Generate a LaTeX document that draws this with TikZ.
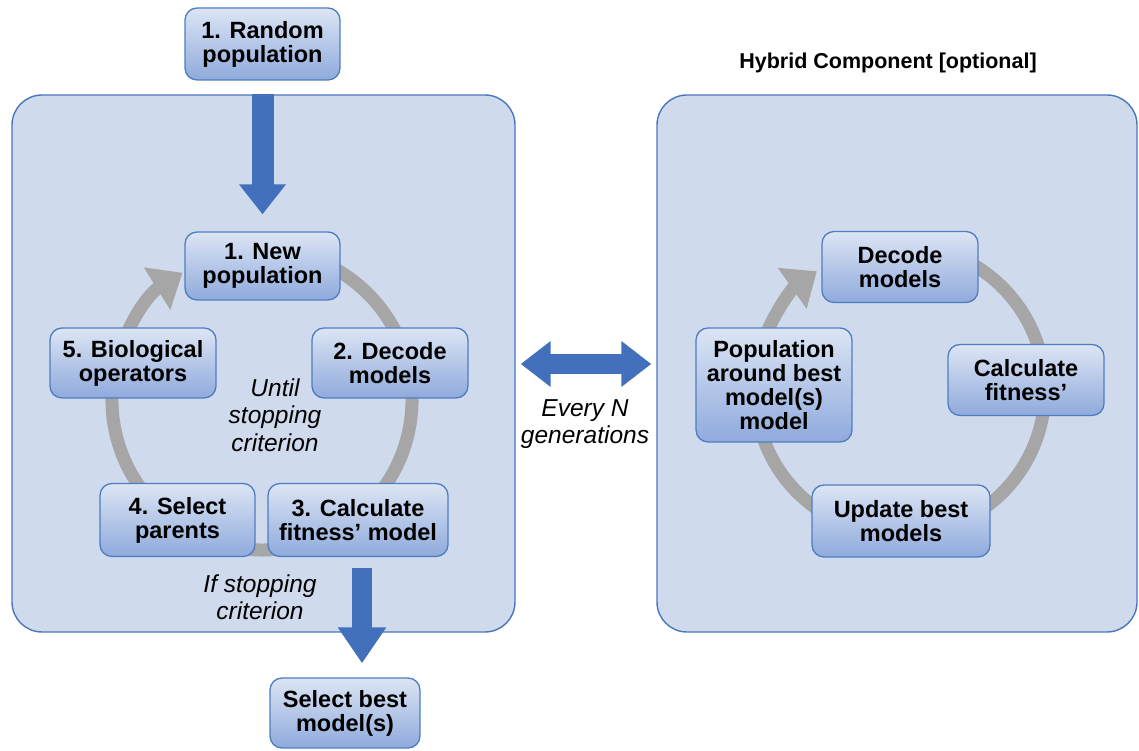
\documentclass[tikz,border=0pt]{standalone}
\usepackage{fontspec}
\setmainfont{Liberation Sans}
\usetikzlibrary{arrows.meta,calc}
\definecolor{contfill}{HTML}{CFDAEC}
\definecolor{contline}{HTML}{4A76C0}
\definecolor{boxtop}{HTML}{DCE5F4}
\definecolor{boxbot}{HTML}{8FAADC}
\definecolor{boxline}{HTML}{4F7DC2}
\definecolor{bluearrow}{HTML}{4270BC}
\definecolor{grayarc}{HTML}{A6A6A6}
\tikzset{
  container/.style={draw=contline, fill=contfill, line width=1.4pt, rounded corners=30pt, inner sep=0pt},
  stepbox/.style={draw=boxline, line width=1.3pt, rounded corners=12pt, top color=boxtop, bottom color=boxbot,
    align=center, inner sep=0pt, font=\bfseries\fontsize{23.5}{24}\selectfont},
  note/.style={align=center, font=\itshape\fontsize{24.5}{27.5}\selectfont},
  blockarrow/.style={draw=bluearrow, line width=#1},
  cyclearc/.style={draw=grayarc, line width=13pt, -{Triangle[length=30pt, width=48pt]}},
}
\begin{document}
\begin{tikzpicture}[x=1pt,y=1pt]
\useasboundingbox (0,0) rectangle (1139,751);
% containers
\node[container, minimum width=503pt, minimum height=537pt] (lc) at (263.5,387.5) {};
\node[container, minimum width=480pt, minimum height=537pt] (rc) at (897,387.5) {};
\node[font=\bfseries\fontsize{21.5}{24}\selectfont] (title) at (888,688) {Hybrid Component [optional]};
% cycle arcs
\draw[cyclearc] (262,351) ++(80:150) arc[start angle=80, end angle=-238, radius=150];
\draw[cyclearc] (900,361) ++(70:145) arc[start angle=70, end angle=-235, radius=145];
% boxes
\node[stepbox, minimum width=155pt, minimum height=72pt] (rand) at (262.5,707) {1. Random\\population};
\node[stepbox, minimum width=155pt, minimum height=68pt] (newpop) at (262.5,485) {1. New\\population};
\node[stepbox, minimum width=156pt, minimum height=70pt] (decode) at (390,388) {2. Decode\\models};
\node[stepbox, minimum width=166pt, minimum height=70pt] (bio) at (133,388) {5. Biological\\operators};
\node[stepbox, minimum width=155pt, minimum height=73pt] (select) at (177.5,231) {4. Select\\parents};
\node[stepbox, minimum width=180pt, minimum height=73pt] (calc) at (358,231) {3. Calculate\\fitness’ model};
\node[stepbox, minimum width=150pt, minimum height=70pt] (best) at (345,38) {Select best\\model(s)};
\node[stepbox, minimum width=156pt, minimum height=71pt] (hdecode) at (900,484) {Decode\\models};
\node[stepbox, minimum width=156pt, minimum height=71pt] (hcalc) at (1026,371) {Calculate\\fitness’};
\node[stepbox, minimum width=178pt, minimum height=72pt] (hupdate) at (901,230) {Update best\\models};
\node[stepbox, minimum width=156pt, minimum height=114pt] (hpop) at (774,366) {Population\\around best\\model(s)\\model};
% notes
\node[note] (until) at (275,336) {Until\\stopping\\criterion};
\node[note] (ifstop) at (260,154) {If stopping\\criterion};
\node[note] (every) at (585,327) {Every N\\generations};
% blue block arrows
\coordinate (topstart) at (rand.south |- lc.north);
\draw[blockarrow=22pt, -{Triangle[length=30pt, width=45pt]}, shorten >=17pt] (topstart) -- (rand.south |- newpop.north);
\coordinate (botstart) at ([xshift=4pt]calc.south);
\coordinate (botend) at ([xshift=17pt]best.north);
\draw[blockarrow=20pt, -{Triangle[length=36pt, width=46pt]}, shorten <=11pt, shorten >=14pt] (botstart) -- (botend);
\coordinate (dl) at (lc.east |- 0,387);
\coordinate (dr) at (rc.west |- 0,387);
\draw[blockarrow=20pt, {Triangle[length=30pt, width=44pt]}-{Triangle[length=30pt, width=44pt]}, shorten <=5pt, shorten >=5pt] (dl) -- (dr);
\end{tikzpicture}
\end{document}
